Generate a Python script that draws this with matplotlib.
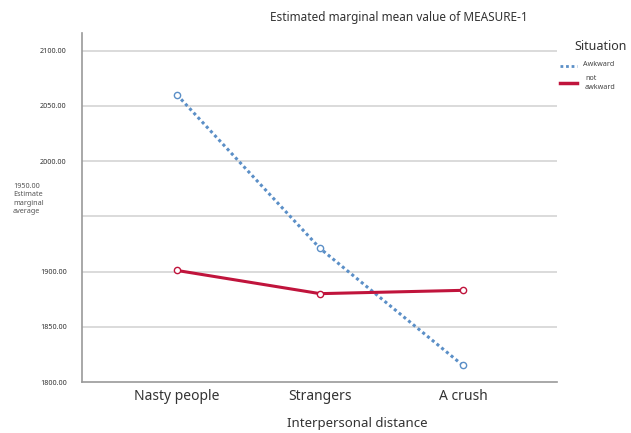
import matplotlib
matplotlib.use("Agg")
import matplotlib.pyplot as plt
from matplotlib.lines import Line2D

categories = ["Nasty people", "Strangers", "A crush"]
awkward = [2060, 1921, 1815]
not_awkward = [1901, 1880, 1883]
yticks = [1800, 1850, 1900, 1950, 2000, 2050, 2100]
ytick_labels = ["1800.00", "1850.00", "1900.00", "", "2000.00", "2050.00", "2100.00"]

plt.rcParams['font.family'] = ['Noto Sans', 'DejaVu Sans']

fig = plt.figure(figsize=(6.31, 4.33), dpi=100)
ax = fig.add_axes([82/631, 1-382/433, (557-82)/631, (382-33)/433])

blue = "#5b8fc7"
red = "#c0143c"
x = list(range(len(categories)))
ax.plot(x, awkward, linestyle=(0, (1, 1)), color=blue, lw=2.2,
        marker='o', markersize=4.5, markerfacecolor='white', markeredgecolor=blue, markeredgewidth=1)
ax.plot(x, not_awkward, linestyle='-', color=red, lw=2.2,
        marker='o', markersize=4.5, markerfacecolor='white', markeredgecolor=red, markeredgewidth=1)

ax.set_xlim(-0.664, 2.657)
ax.set_ylim(1800, 2116)
ax.set_yticks(yticks)
ax.set_yticklabels(ytick_labels, fontsize=5.2, color="#333333")
ax.set_xticks(x)
ax.set_xticklabels(categories, fontsize=10, color="#333333")
ax.tick_params(length=0)
ax.tick_params(axis='y', pad=11)
ax.tick_params(axis='x', pad=5)
for yv in yticks[1:]:
    ax.axhline(yv, color="#d4d4d4", lw=1.2, zorder=0)
for s in ["top", "right"]:
    ax.spines[s].set_visible(False)
for s in ["left", "bottom"]:
    ax.spines[s].set_color("#999999")
    ax.spines[s].set_linewidth(1.2)

ax.set_xlabel("Interpersonal distance", fontsize=9.5, color="#333333")
ax.xaxis.set_label_coords((357-82)/(557-82), -(423-382)/(382-33))
ax.xaxis.label.set_va('center')
fig.text(13/631, 1-183/433, "1950.00\nEstimate\nmarginal\naverage", fontsize=5.2,
         color="#555555", va='top', ha='left', linespacing=1.3)
fig.text(399/631, 1-18/433, "Estimated marginal mean value of MEASURE-1",
         fontsize=8.5, color="#333333", ha='center', va='center')

fig.text(601/631, 1-47/433, "Situation", fontsize=9, color="#333333", ha='center', va='center')
fig.add_artist(Line2D([560/631, 577/631], [1-66/433, 1-66/433], color=blue, lw=2, linestyle=(0, (1, 1))))
fig.add_artist(Line2D([560/631, 577/631], [1-83/433, 1-83/433], color=red, lw=2.5))
fig.text(583/631, 1-65/433, "Awkward", fontsize=5.2, color="#444444", ha='left', va='center')
fig.text(585/631, 1-83/433, "not\nawkward", fontsize=5.2, color="#444444", ha='left', va='center', linespacing=1.4)

fig.savefig("out.png", dpi=100, facecolor="white")
